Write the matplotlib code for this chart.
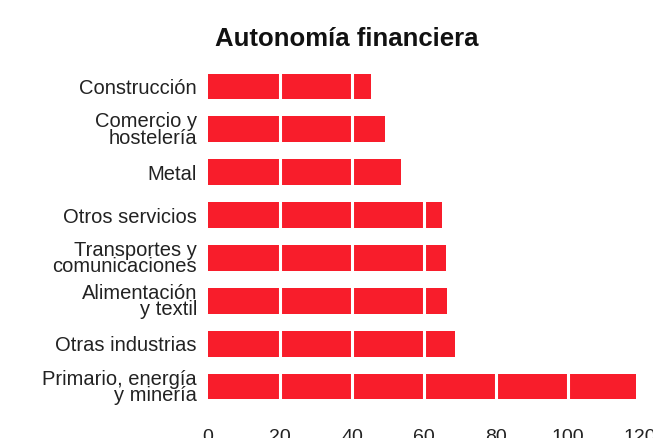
import matplotlib
matplotlib.use("Agg")
import matplotlib.pyplot as plt
import numpy as np

plt.rcParams['font.family'] = ['Liberation Sans', 'DejaVu Sans']

sectores = ["Construcción", "Comercio y\nhostelería", "Metal", "Otros servicios",
            "Transportes y\ncomunicaciones", "Alimentación\ny textil",
            "Otras industrias", "Primario, energía\ny minería"]
valores = [45.3, 49.2, 53.6, 65.0, 66.1, 66.4, 68.6, 118.9]
xticks = [0, 20, 40, 60, 80, 100, 120]

fig = plt.figure(figsize=(6.53, 4.38), dpi=100)
ax = fig.add_axes([208/653, 1 - 408/438, 432/653, 343/438])

pos = np.arange(len(sectores))
ax.barh(pos, valores, height=0.6, color="#f81d2b", zorder=1)
# white gridlines drawn over the bars
for x in xticks[1:]:
    ax.axvline(x, color="white", lw=2.2, zorder=2)

ax.set_xlim(0, 120)
ax.set_ylim(len(sectores) - 0.5, -0.5)
ax.set_yticks(pos)
ax.set_yticklabels(sectores, fontsize=14.5, linespacing=0.82, color="#222222")
ax.set_xticks(xticks)
ax.set_xticklabels([str(x) for x in xticks], fontsize=14, color="#222222")
ax.tick_params(axis="y", length=0, pad=8)
ax.tick_params(axis="x", length=0, pad=15)
for s in ax.spines.values():
    s.set_visible(False)

fig.text(347/653, 1 - 39/438, "Autonomía financiera", ha="center", va="center",
         fontsize=18.5, fontweight="bold", color="#111111")

fig.savefig("out.png", dpi=100)
